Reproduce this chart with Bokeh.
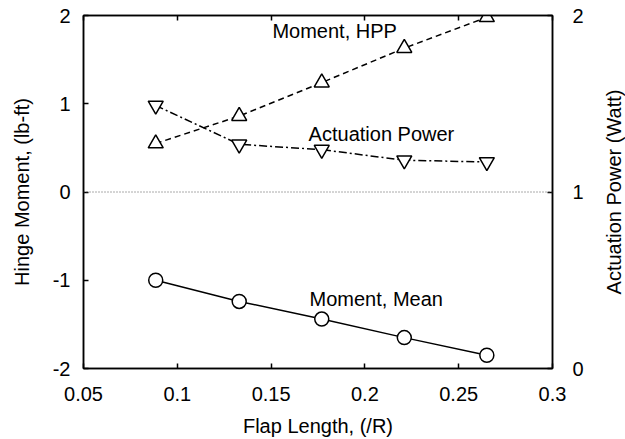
import math
from bokeh.plotting import figure
from bokeh.layouts import row
from bokeh.models import LinearAxis, Range1d, Span, Label, FixedTicker, Title
from bokeh.embed import file_html
from bokeh.resources import INLINE

# ---- data ----
flap_length = [0.0885, 0.133, 0.177, 0.221, 0.265]
moment_mean = [-1.00, -1.24, -1.44, -1.65, -1.85]
moment_hpp = [0.55, 0.86, 1.24, 1.63, 1.98]
actuation_power = [1.49, 1.27, 1.24, 1.18, 1.17]

x_ticks = [0.05, 0.1, 0.15, 0.2, 0.25, 0.3]
x_tick_labels = ["0.05", "0.1", "0.15", "0.2", "0.25", "0.3"]
left_ticks = [-2, -1, 0, 1, 2]
left_tick_labels = ["-2", "-1", "0", "1", "2"]
right_ticks = [0, 1, 2]
right_tick_labels = ["0", "1", "2"]

FONT = "Liberation Sans"
FS = "20px"

W, H = 587, 439
BL, BR, BT, BB = 83, 35, 15, 70

p = figure(width=W, height=H,
           x_range=Range1d(0.05, 0.3), y_range=Range1d(-2, 2),
           output_backend="svg", toolbar_location=None,
           min_border_left=BL, min_border_right=BR,
           min_border_top=BT, min_border_bottom=BB)
p.extra_y_ranges = {"power": Range1d(0, 2)}
p.xgrid.visible = False
p.ygrid.visible = False
p.outline_line_color = "black"
p.outline_line_width = 1.5
p.background_fill_color = "white"
p.border_fill_color = "white"


def style_axis(ax):
    ax.major_tick_in = 5
    ax.major_tick_out = 0
    ax.minor_tick_line_color = None
    ax.axis_line_color = "black"
    ax.axis_line_width = 1.5
    ax.major_tick_line_color = "black"
    ax.major_tick_line_width = 1.5
    ax.major_label_text_font = FONT
    ax.major_label_text_font_size = FS
    ax.major_label_text_color = "black"
    ax.axis_label_text_font = FONT
    ax.axis_label_text_font_size = FS
    ax.axis_label_text_font_style = "normal"
    ax.axis_label_text_color = "black"


xa = p.xaxis[0]
style_axis(xa)
xa.ticker = FixedTicker(ticks=x_ticks)
xa.major_label_overrides = dict(zip(x_ticks, x_tick_labels))
xa.axis_label = "Flap Length, (/R)"
xa.major_label_standoff = 18
xa.axis_label_standoff = 11

ya = p.yaxis[0]
style_axis(ya)
ya.ticker = FixedTicker(ticks=left_ticks)
ya.major_label_overrides = dict(zip(left_ticks, left_tick_labels))
ya.axis_label = "Hinge Moment, (lb-ft)"
ya.major_label_standoff = 13
ya.axis_label_standoff = 17

top = LinearAxis(ticker=FixedTicker(ticks=x_ticks))
style_axis(top)
top.major_label_text_color = None
top.major_label_standoff = 0
p.add_layout(top, "above")

ra = LinearAxis(y_range_name="power", ticker=FixedTicker(ticks=right_ticks))
style_axis(ra)
ra.major_label_overrides = dict(zip(right_ticks, right_tick_labels))
ra.major_label_standoff = 20
p.add_layout(ra, "right")

p.add_layout(Span(location=0, dimension="width", line_color="#555555",
                  line_dash="1 2", line_width=1))

# Moment, Mean
p.line(flap_length, moment_mean, line_color="black", line_width=1.5)
p.scatter(flap_length, moment_mean, marker="circle", size=14,
          fill_color="white", line_color="black", line_width=1.5)

# Moment, HPP
p.line(flap_length, moment_hpp, line_color="black", line_width=1.5,
       line_dash="6 4")
p.scatter(flap_length, moment_hpp, marker="triangle", size=15,
          fill_color="white", line_color="black", line_width=1.5)

# Actuation Power (right axis)
p.line(flap_length, actuation_power, y_range_name="power", line_color="black",
       line_width=1.5, line_dash="8 3 2 3")
p.scatter(flap_length, actuation_power, y_range_name="power",
          marker="inverted_triangle", size=15,
          fill_color="white", line_color="black", line_width=1.5)

for tx, ty, txt in [(0.1507, 1.82, "Moment, HPP"),
                    (0.170, 0.655, "Actuation Power"),
                    (0.1705, -1.21, "Moment, Mean")]:
    p.add_layout(Label(x=tx, y=ty, text=txt, text_font=FONT,
                       text_font_size=FS, text_baseline="middle",
                       text_align="left", text_color="black"))

# narrow strip on the right carrying the right-hand axis title (reads bottom to top)
p2 = figure(width=625 - W, height=H, output_backend="svg", toolbar_location=None,
            x_axis_type=None, y_axis_type=None,
            min_border_left=625 - W - 1, min_border_right=0,
            min_border_top=BT, min_border_bottom=BB)
p2.outline_line_color = None
p2.xgrid.visible = False
p2.ygrid.visible = False
p2.background_fill_color = None
p2.border_fill_color = "white"
p2.add_layout(Title(text="Actuation Power (Watt)", align="center",
                    text_font=FONT, text_font_size=FS,
                    text_font_style="normal", text_color="black",
                    standoff=0), "left")

open("out.html", "w").write(file_html(row(p, p2), INLINE))
